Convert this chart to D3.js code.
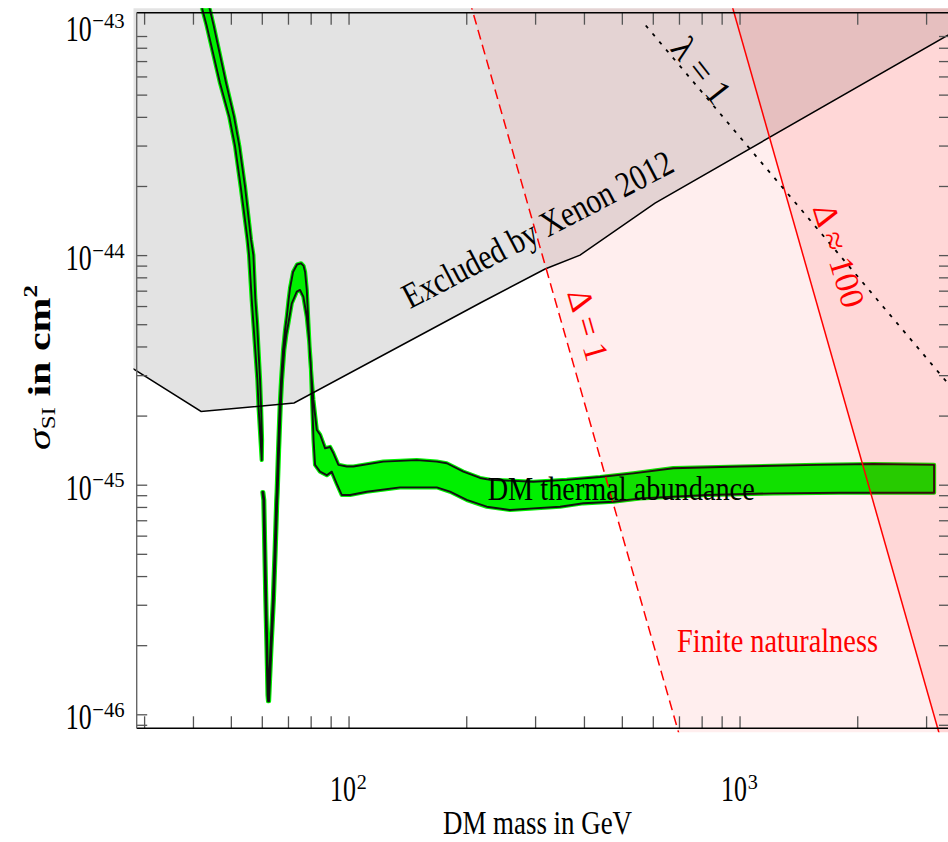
<!DOCTYPE html>
<html><head><meta charset="utf-8">
<script src="https://cdn.jsdelivr.net/npm/d3@7"></script>
<style>
body{margin:0;background:#fff}
svg{display:block}
text{font-family:"Liberation Serif","Times New Roman",serif}
</style>
</head><body>
<svg id="c" width="948" height="842"></svg>
<script>
// ---------------- DATA ----------------
// axis ranges (GeV, cm^2)
const xDomain = [28.72, 3474];
const yDomain = [8.69e-47, 1.137e-43];
const xTickExps = [2, 3];
const yTickExps = [-43, -44, -45, -46];

// Xenon 2012 exclusion limit
const xenonMass  = [28.1, 41.96, 72.55, 219.5, 318.1, 390.9, 607.9, 3557];
const xenonSigma = [3.2e-45, 2.084e-45, 2.27e-45, 6.247e-45, 8.70e-45, 1.0e-44, 1.686e-44, 9.46e-44];

// Delta = 1 (dashed) and Delta ~ 100 (solid) naturalness lines
const deltaOneMass  = [203.8, 707.3];
const deltaOneSigma = [1.291e-43, 7.727e-47];
const deltaHundredMass  = [947.8, 3276];
const deltaHundredSigma = [1.291e-43, 7.727e-47];

// lambda = 1 (dotted)
const lambdaOneMass  = [575.6, 3495];
const lambdaOneSigma = [1.0e-43, 2.63e-45];

// DM thermal abundance band: branch below the Higgs resonance (upper part)
const bandTopSigma    = [1.358e-43, 1.192e-43, 1.005e-43, 5.62e-44, 3.995e-44, 2.986e-44, 1.980e-44, 1.164e-44, 1.001e-44, 6.374e-45, 5.061e-45, 2.857e-45, 2.180e-45, 1.565e-45, 1.281e-45];
const bandTopMassLow  = [41.21, 42.19, 43.33, 46.91, 49.56, 51.25, 53.00, 55.17, 55.66, 56.55, 57.09, 58.46, 58.87, 59.56, 59.98];
const bandTopMassHigh = [43.07, 44.10, 45.15, 48.60, 50.95, 52.56, 54.36, 56.32, 57.09, 57.77, 58.35, 59.39, 59.74, 60.08, 59.98];

// branch below resonance, near the dip
const dipOuterMass  = [60.20, 60.55, 60.91, 61.27, 61.70, 62.07, 62.25];
const dipOuterSigma = [9.29e-46, 8.58e-46, 5.19e-46, 3.15e-46, 1.91e-46, 1.21e-46, 1.14e-46];
const dipInnerMass  = [60.51, 60.87, 61.23, 61.60, 61.99, 62.33];
const dipInnerSigma = [9.29e-46, 8.58e-46, 5.19e-46, 3.15e-46, 1.91e-46, 1.23e-46];

// above resonance: lower edge of band
const lowMass  = [62.62, 63.47, 64.41, 65.10, 65.72, 65.87, 66.42, 67.05, 67.60, 68.49, 69.30, 70.17, 71.58, 73.72, 75.16, 76.64, 78.19, 79.26, 80.05, 80.67, 81.39, 82.11, 84.57, 87.97, 90.59, 93.28, 96.07, 100.9, 111.3, 135.4, 168.1, 181.8, 200.6, 225.7, 258.9, 296.9, 347.5, 398.7, 475.6, 556.7, 824.4, 1220, 1807, 3144];
const lowSigma = [1.14e-46, 1.91e-46, 3.15e-46, 5.19e-46, 8.58e-46, 9.29e-46, 1.42e-45, 2.18e-45, 2.86e-45, 3.86e-45, 4.49e-45, 5.05e-45, 6.17e-45, 6.93e-45, 7.05e-45, 6.59e-45, 5.39e-45, 4.27e-45, 3.38e-45, 2.34e-45, 1.565e-45, 1.22e-45, 1.14e-45, 1.10e-45, 1.14e-45, 1.01e-45, 9.02e-46, 9.02e-46, 9.32e-46, 9.74e-46, 9.74e-46, 9.32e-46, 8.58e-46, 8.02e-46, 7.76e-46, 7.89e-46, 8.02e-46, 8.30e-46, 8.43e-46, 8.72e-46, 9.02e-46, 9.17e-46, 9.23e-46, 9.23e-46];
// above resonance: upper edge of band
const upMass  = [62.47, 63.10, 64.03, 64.71, 65.33, 65.48, 66.03, 66.65, 67.21, 68.00, 68.81, 69.50, 70.25, 70.87, 72.13, 73.85, 75.61, 76.73, 77.41, 78.19, 78.93, 79.72, 80.53, 81.29, 82.94, 84.57, 87.09, 89.69, 91.45, 94.18, 98.95, 102.9, 122.7, 149.4, 168.1, 178.3, 196.6, 216.9, 230.1, 296.9, 361.5, 439.8, 535.2, 677.1, 1003, 1576, 2199, 3144];
const upSigma = [1.19e-46, 1.91e-46, 3.15e-46, 5.19e-46, 8.58e-46, 9.29e-46, 1.42e-45, 2.18e-45, 2.86e-45, 3.86e-45, 4.72e-45, 5.38e-45, 6.37e-45, 7.19e-45, 8.44e-45, 9.10e-45, 9.21e-45, 8.97e-45, 8.44e-45, 7.05e-45, 5.06e-45, 3.60e-45, 2.86e-45, 2.34e-45, 1.73e-45, 1.65e-45, 1.44e-45, 1.46e-45, 1.37e-45, 1.22e-45, 1.20e-45, 1.20e-45, 1.26e-45, 1.28e-45, 1.26e-45, 1.24e-45, 1.14e-45, 1.07e-45, 1.05e-45, 1.03e-45, 1.05e-45, 1.08e-45, 1.12e-45, 1.18e-45, 1.20e-45, 1.22e-45, 1.23e-45, 1.22e-45];

// ---------------- DRAWING ----------------
const svg = d3.select("#c");
const L = 136.7, R = 951, T = 12.7, B = 728.3;
const x = d3.scaleLog().domain(xDomain).range([L, R]);
const y = d3.scaleLog().domain(yDomain).range([B, T]);

svg.append("defs").append("clipPath").attr("id","pc")
  .append("rect").attr("x",L-3.2).attr("y",T-4.5).attr("width",R-L+10).attr("height",B-T+8.5);

const g = svg.append("g").attr("clip-path","url(#pc)");
const pts = (ms, ss) => ms.map((m,i)=>[x(m), y(ss[i])]);
const line = d3.line();

// grey excluded region
const xp = pts(xenonMass, xenonSigma);
g.append("path")
  .attr("d", line(xp) + `L${xp[xp.length-1][0]},0L${xp[0][0]},0Z`)
  .attr("fill","#e3e3e3");

// DM thermal band
const topPoly = pts(bandTopMassLow, bandTopSigma).concat(pts(bandTopMassHigh, bandTopSigma).reverse());
const mainPoly = pts(dipOuterMass, dipOuterSigma)
  .concat(pts(lowMass, lowSigma))
  .concat(pts(upMass, upSigma).reverse())
  .concat(pts(dipInnerMass, dipInnerSigma).reverse());
[topPoly, mainPoly].forEach(p=>{
  g.append("path").attr("d", line(p)+"Z")
    .attr("fill","#00f000").attr("stroke","#00f000").attr("stroke-width",4.2).attr("stroke-linejoin","round");
});
[topPoly, mainPoly].forEach(p=>{
  g.append("path").attr("d", line(p)+"Z")
    .attr("fill","none").attr("stroke","#111").attr("stroke-width",1.9).attr("stroke-linejoin","round");
});

// naturalness regions (translucent red)
function rightRegion(ms, ss){
  const p = pts(ms, ss);
  return line(p) + `L${R+20},${p[1][1]}L${R+20},${p[0][1]}Z`;
}
g.append("path").attr("d", rightRegion(deltaOneMass, deltaOneSigma)).attr("fill","#ff0000").attr("fill-opacity",0.065);
g.append("path").attr("d", rightRegion(deltaHundredMass, deltaHundredSigma)).attr("fill","#ff0000").attr("fill-opacity",0.095);

// Xenon line
g.append("path").attr("d", line(xp)).attr("fill","none").attr("stroke","#000").attr("stroke-width",1.5);

// lines
g.append("path").attr("d", line(pts(deltaOneMass, deltaOneSigma)))
  .attr("stroke","#ff0000").attr("stroke-width",1.5).attr("stroke-dasharray","10,5.5").attr("fill","none");
g.append("path").attr("d", line(pts(deltaHundredMass, deltaHundredSigma)))
  .attr("stroke","#ff0000").attr("stroke-width",1.5).attr("fill","none");
g.append("path").attr("d", line(pts(lambdaOneMass, lambdaOneSigma)))
  .attr("stroke","#000").attr("stroke-width",1.8).attr("stroke-dasharray","3.5,7").attr("fill","none");

// ---------------- FRAME & TICKS ----------------
const xMinor = [], yMinor = [];
for (let e = 1; e <= 3; e++) for (let k = 1; k <= 9; k++) { const v = k*Math.pow(10,e); if (v>=xDomain[0] && v<=xDomain[1]) xMinor.push(v); }
for (let e = -47; e <= -44; e++) for (let k = 1; k <= 9; k++) { const v = k*Math.pow(10,e); if (v>=yDomain[0] && v<=yDomain[1]) yMinor.push(v); }

const tickCol = "#555";
function styleAxis(sel){ sel.select(".domain").remove(); sel.selectAll("line").attr("stroke",tickCol).attr("stroke-width",1.3); sel.selectAll("text").remove(); }
svg.append("g").attr("transform",`translate(0,${B})`).call(d3.axisTop(x).tickValues(xMinor).tickSize(12).tickFormat("")).call(styleAxis);
svg.append("g").attr("transform",`translate(0,${T})`).call(d3.axisBottom(x).tickValues(xMinor).tickSize(12).tickFormat("")).call(styleAxis);
svg.append("g").attr("transform",`translate(${L},0)`).call(d3.axisRight(y).tickValues(yMinor).tickSize(10.5).tickFormat("")).call(styleAxis);
svg.append("g").attr("transform",`translate(${R},0)`).call(d3.axisLeft(y).tickValues(yMinor).tickSize(12).tickFormat("")).call(styleAxis);

svg.append("line").attr("x1",L).attr("x2",R).attr("y1",T).attr("y2",T).attr("stroke","#000").attr("stroke-width",1.4);
svg.append("line").attr("x1",L).attr("x2",R).attr("y1",B).attr("y2",B).attr("stroke","#000").attr("stroke-width",1.4);
svg.append("line").attr("x1",L).attr("x2",L).attr("y1",T).attr("y2",B).attr("stroke","#666").attr("stroke-width",1.4);

// ---------------- TEXT ----------------
function txt(s, xx, yy, size, opts={}){
  const t = svg.append("text").attr("x",xx).attr("y",yy).attr("font-size",size).text(s);
  if (opts.len) t.attr("textLength",opts.len).attr("lengthAdjust","spacingAndGlyphs");
  if (opts.anchor) t.attr("text-anchor",opts.anchor);
  if (opts.fill) t.attr("fill",opts.fill);
  if (opts.rot !== undefined) t.attr("transform",`rotate(${opts.rot},${xx},${yy})`);
  return t;
}
// condensed power-of-ten label: one text element, scaled horizontally
function powLabel(xx, yy, exp){
  const t = svg.append("text").attr("transform",`translate(${xx},${yy}) scale(0.72,1)`).attr("font-size",36);
  t.append("tspan").text("10");
  t.append("tspan").attr("font-size",22).attr("dx",1).attr("dy",-12.5).attr("textLength",exp.length>1?45:14).attr("lengthAdjust","spacingAndGlyphs").text(exp);
  return t;
}
yTickExps.forEach(e=>{
  const ty = y(Math.pow(10,e));
  powLabel(65.7, ty+15, "\u2212"+Math.abs(e));
});
xTickExps.forEach(e=>{
  const tx = x(Math.pow(10,e));
  powLabel(tx-18.5, 801, String(e));
});

txt("DM mass in GeV", 443, 834, 34, {len:189});
// y-axis title
const yt = svg.append("text").attr("transform","translate(50,450) rotate(-90)").attr("font-size",32).attr("font-weight","bold")
  .attr("textLength",165).attr("lengthAdjust","spacingAndGlyphs");
yt.append("tspan").attr("font-style","italic").attr("font-weight","normal").text("\u03c3");
yt.append("tspan").attr("font-size",19).attr("dy",5).attr("font-weight","normal").text("SI");
yt.append("tspan").attr("dy",-5).text(" in cm");
yt.append("tspan").attr("font-size",19).attr("dy",-13).text("2");

txt("DM thermal abundance", 487.7, 500, 34, {len:267});
txt("Finite naturalness", 677, 652, 34, {len:201, fill:"#ff0000"});
txt("Excluded by Xenon 2012", 543, 240, 36, {len:300, anchor:"middle", rot:-27.5});
txt("\u03bb = 1", 692, 78, 36, {anchor:"middle", rot:52});
txt("\u0394 = 1", 577, 328, 34, {anchor:"middle", rot:74, fill:"#ff0000"});
txt("\u0394 \u2248 100", 828, 259, 34, {anchor:"middle", rot:73, fill:"#ff0000"});
</script>
</body></html>
